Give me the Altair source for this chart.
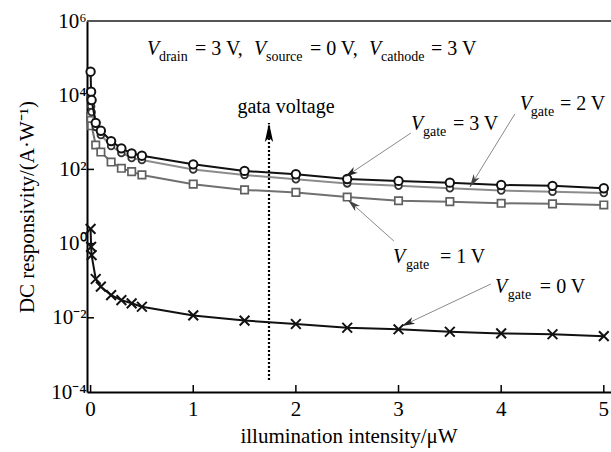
import altair as alt
import numpy as np
import pandas as pd

FONT = "Liberation Serif"

# plot-area geometry and scale domains
W, H = 524, 371
XMIN, XMAX = -0.035, 5.07
YMIN, YMAX = 1e-4, 1e6

# illumination intensity (uW)
x_vals = [0, 0.005, 0.01, 0.05, 0.1, 0.2, 0.3, 0.4, 0.5,
          1, 1.5, 2, 2.5, 3, 3.5, 4, 4.5, 5]

# DC responsivity (A/W) for each gate voltage
r_gate3 = [43000, 12400, 7400, 1800, 1100, 580, 370, 270, 234,
           137, 91, 74, 55, 49, 44, 38, 36, 31]
r_gate2 = [9000, 5000, 3500, 1400, 845, 428, 277, 203, 179,
           100, 71, 54, 42, 36, 31, 27, 25, 23]
r_gate1 = [2600, 2100, 1500, 455, 294, 158, 107, 87, 71,
           40, 28, 24, 18, 14.3, 13.5, 12.2, 11.8, 11]
r_gate0 = [2.5, 0.82, 0.49, 0.111, 0.069, 0.041, 0.030, 0.0246, 0.0199,
           0.0116, 0.0084, 0.0068, 0.0054, 0.0049, 0.0042, 0.0038, 0.0036, 0.0032]

x_ticks = [0, 1, 2, 3, 4, 5]
x_tick_labels = ["0", "1", "2", "3", "4", "5"]
y_ticks = [1e-4, 1e-2, 1, 1e2, 1e4, 1e6]
x_title = "illumination intensity/\u03bcW"
y_title = "DC responsivity/(A\u00b7W\u207b\u00b9)"

# text pieces: italic variable, subscript, plain remainder
ann_text = ["V", "drain", "= 3 V,", "V", "source", "= 0 V,", "V", "cathode", "= 3 V",
            "V", "gate", "= 3 V",
            "V", "gate", "= 2 V",
            "V", "gate", "= 1 V",
            "V", "gate", "= 0 V"]
ann_role = ["var", "sub", "main"] * 7
ann_x = [0.550, 0.666, 1.017, 1.592, 1.709, 2.137, 2.712, 2.829, 3.316,
         3.121, 3.238, 3.530,
         4.182, 4.289, 4.572,
         2.945, 3.072, 3.403,
         3.939, 4.065, 4.377]
ann_y = [1.21e5] * 9 + [1150] * 3 + [4000] * 3 + [0.30] * 3 + [0.0466] * 3

# pointer arrows from labels to curves (start -> tip)
arr_x1 = [3.121, 4.133, 2.955, 3.900]
arr_y1 = [957, 3112, 1.17, 0.0815]
arr_x2 = [2.478, 3.695, 2.507, 3.033]
arr_y2 = [62, 33.5, 15.0, 0.0060]
arr_color = ["#222222", "#444444", "#444444", "#222222"]

# dotted "gate voltage" arrow
gate_x = 1.738
gate_y1, gate_y2 = 2.1e-4, 1780


def px(x):
    return (np.asarray(x) - XMIN) / (XMAX - XMIN) * W


def py(y):
    return (np.log10(YMAX) - np.log10(np.asarray(y))) / (np.log10(YMAX) - np.log10(YMIN)) * H


def heading(x1, y1, x2, y2):
    dx = px(x2) - px(x1)
    dy = py(y2) - py(y1)
    return (np.degrees(np.arctan2(dx, -dy)) + 360) % 360


xs = alt.Scale(domain=[XMIN, XMAX], nice=False, zero=False)
ys = alt.Scale(type="log", domain=[YMIN, YMAX], nice=False)

x_axis = alt.Axis(values=x_ticks, ticks=False, grid=False, labels=False, title=None,
                  domainColor="black", domainWidth=2)
y_axis = alt.Axis(values=y_ticks, ticks=False, grid=False, labelFlush=False,
                  labelExpr="'10' + (datum.value >= 1e5 ? '\u2076' : datum.value >= 1e3 ? '\u2074' : "
                            "datum.value >= 10 ? '\u00b2' : datum.value >= 0.1 ? '\u2070' : "
                            "datum.value >= 1e-3 ? '\u207b\u00b2' : '\u207b\u2074')",
                  labelFont=FONT, labelFontSize=21, labelColor="black", labelPadding=1,
                  domainColor="black", domainWidth=2,
                  title=y_title, titleFont=FONT, titleFontSize=21,
                  titleFontWeight="normal", titleColor="black", titleAngle=270,
                  titleAlign="center", titleBaseline="alphabetic", titleX=-54, titleY=H / 2)


def X(field):
    return alt.X(field, scale=xs, axis=x_axis)


def Y(field):
    return alt.Y(field, scale=ys, axis=y_axis)


def series(vals, line_color, shape, size, stroke, sw, fill="white"):
    df = pd.DataFrame({"x": x_vals, "y": vals})
    line = alt.Chart(df).mark_line(color=line_color, strokeWidth=2).encode(
        x=X("x:Q"), y=Y("y:Q"))
    pts = alt.Chart(df).mark_point(shape=shape, size=size, stroke=stroke, strokeWidth=sw,
                                   fill=fill, filled=False, opacity=1, fillOpacity=1).encode(
        x=X("x:Q"), y=Y("y:Q"))
    return [line, pts]


# top frame line
frame = alt.Chart(pd.DataFrame({"k": [0]})).mark_rule(color="#555555", strokeWidth=2).encode(
    x=alt.value(0), x2=alt.value(W), y=alt.value(0))

# inward ticks
xt = alt.Chart(pd.DataFrame({"x": x_ticks})).mark_rule(color="black", strokeWidth=1.5).encode(
    x=X("x:Q"), y=alt.value(H), y2=alt.value(H - 7))
yt = alt.Chart(pd.DataFrame({"y": y_ticks[1:-1]})).mark_rule(color="black", strokeWidth=1.5).encode(
    y=Y("y:Q"), x=alt.value(0), x2=alt.value(7))

# x tick labels and x title below the plot
xl = alt.Chart(pd.DataFrame({"x": x_ticks, "t": x_tick_labels})).mark_text(
    font=FONT, fontSize=21, align="center", baseline="middle", color="black").encode(
    x=X("x:Q"), y=alt.value(H + 18), text="t:N")
xtitle = alt.Chart(pd.DataFrame({"t": [x_title]})).mark_text(
    font=FONT, fontSize=21, align="center", baseline="alphabetic", color="black").encode(
    x=alt.value(W / 2), y=alt.value(H + 51), text="t:N")

cross = "M-1,-1L1,1M-1,1L1,-1"
layers = []
layers += series(r_gate1, "#707070", "square", 55, "#606060", 1.7)
layers += series(r_gate2, "#8c8c8c", "circle", 45, "#333333", 1.8)
layers += series(r_gate3, "#111111", "circle", 70, "#111111", 2)
layers += series(r_gate0, "#111111", cross, 95, "#111111", 2, fill="transparent")

# pointer arrows
arr = pd.DataFrame({"x1": arr_x1, "y1": arr_y1, "x2": arr_x2, "y2": arr_y2, "c": arr_color})
arr["ang"] = heading(arr.x1, arr.y1, arr.x2, arr.y2)
pointer_lines = alt.Chart(arr).mark_rule(strokeWidth=1, color="#8a8a8a").encode(
    x=X("x1:Q"), y=Y("y1:Q"), x2="x2:Q", y2="y2:Q")
pointer_heads = alt.Chart(arr).mark_point(
    shape="M0,0L0.55,2L0,1.45L-0.55,2Z", size=170, filled=True, opacity=1, strokeWidth=0).encode(
    x=X("x2:Q"), y=Y("y2:Q"),
    angle=alt.Angle("ang:Q", scale=None), color=alt.Color("c:N", scale=None))

gate = pd.DataFrame({"x": [gate_x], "y1": [gate_y1], "y2": [gate_y2]})
gate_line = alt.Chart(gate).mark_rule(strokeWidth=2.2, color="black", strokeDash=[2, 2]).encode(
    x=X("x:Q"), y=Y("y1:Q"), y2="y2:Q")
gate_head = alt.Chart(gate).mark_point(
    shape="M0,0L0.42,1.9L0,1.45L-0.42,1.9Z", size=400, filled=True, color="black",
    opacity=1, strokeWidth=0).encode(x=X("x:Q"), y=Y("y2:Q"))
gate_text = alt.Chart(pd.DataFrame({"x": [1.904], "y": [3300], "t": ["gata voltage"]})).mark_text(
    font=FONT, fontSize=20, align="center", baseline="alphabetic", color="black").encode(
    x=X("x:Q"), y=Y("y:Q"), text="t:N")

ann = pd.DataFrame({"t": ann_text, "x": ann_x, "y": ann_y, "role": ann_role})


def ann_layer(role, **kw):
    return alt.Chart(ann).transform_filter(alt.datum.role == role).mark_text(
        font=FONT, align="left", baseline="alphabetic", color="black", **kw).encode(
        x=X("x:Q"), y=Y("y:Q"), text="t:N")


ann_var = ann_layer("var", fontSize=20, fontStyle="italic")
ann_sub = ann_layer("sub", fontSize=14, dy=6)
ann_main = ann_layer("main", fontSize=20)

chart = alt.layer(
    frame, xt, yt, xl, xtitle, gate_line, gate_head, pointer_lines, *layers,
    pointer_heads, gate_text, ann_var, ann_sub, ann_main
).properties(
    width=W, height=H,
    autosize=alt.AutoSizeParams(type="none"),
    padding={"left": 87, "top": 21, "right": 0, "bottom": 60},
    background="white",
).configure_view(stroke=None)

chart.save("out.html", embed_options={"renderer": "svg", "actions": False})
